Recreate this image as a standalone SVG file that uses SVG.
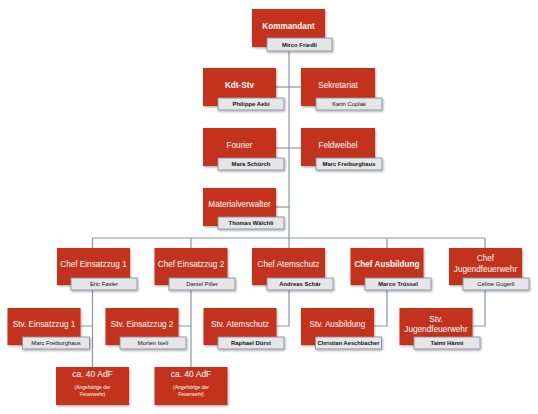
<svg xmlns="http://www.w3.org/2000/svg" width="538" height="414" viewBox="0 0 538 414">
<defs>
<filter id="sh" x="-20%" y="-20%" width="140%" height="150%">
<feDropShadow dx="0.8" dy="1.2" stdDeviation="0.9" flood-color="#000" flood-opacity="0.35"/>
</filter>
<style>
.box{fill:#C3321F;filter:url(#sh)}
.lab{fill:#E6E6E8;stroke:#8A91A0;stroke-width:0.9;filter:url(#sh)}
.t{font-family:"Liberation Sans",Arial,sans-serif;font-size:8.2px;fill:#fff;text-anchor:middle}
.tb{font-weight:bold}
.n{font-family:"Liberation Sans",Arial,sans-serif;font-size:5.9px;fill:#111;text-anchor:middle}
.nb{font-weight:bold}
.s{font-family:"Liberation Sans",Arial,sans-serif;font-size:5px;fill:#fff;text-anchor:middle}
.big{font-size:8.5px}
.c{fill:none;stroke:#8C95A6;stroke-width:1.2}
</style>
</defs>
<rect width="538" height="414" fill="#fff"/>
<g id="connectors" class="c">
<path d="M289,47V238"/>
<path d="M276,87H301"/>
<path d="M276,148H301"/>
<path d="M276,207H289"/>
<path d="M92.5,238H485"/>
<path d="M92.5,238V248M191,238V248M289,238V248M387,238V248M485,238V248"/>
<path d="M92.5,285V367M92.5,326H80.5"/>
<path d="M191,285V367M191,326H178.5"/>
<path d="M289,285V326H276.5"/>
<path d="M387,285V326H374"/>
<path d="M485,285V326H472.5"/>
</g>
<g id="kommandant">
<rect class="box" x="252" y="9" width="73" height="38"/>
<text class="t tb" x="288.5" y="29">Kommandant</text>
<rect class="lab" x="267" y="38" width="65" height="13"/>
<text class="n nb" x="299.5" y="46.5">Mirco Friedli</text>
</g>
<g id="kdt-stv">
<rect class="box" x="203" y="68" width="73" height="38"/>
<text class="t tb" x="239.5" y="88">Kdt-Stv</text>
<rect class="lab" x="218" y="98" width="66" height="12"/>
<text class="n nb" x="251" y="106">Philippe Aebi</text>
</g>
<g id="sekretariat">
<rect class="box" x="301" y="68" width="74" height="38"/>
<text class="t" x="338" y="88">Sekretariat</text>
<rect class="lab" x="316" y="98" width="66" height="12"/>
<text class="n" x="349" y="106">Karin Coplak</text>
</g>
<g id="fourier">
<rect class="box" x="203" y="128" width="73" height="38"/>
<text class="t" x="239.5" y="147.5">Fourier</text>
<rect class="lab" x="218" y="158" width="66" height="12"/>
<text class="n nb" x="251" y="166">Mara Schürch</text>
</g>
<g id="feldweibel">
<rect class="box" x="301" y="128" width="74" height="38"/>
<text class="t" x="338" y="147.5">Feldweibel</text>
<rect class="lab" x="316" y="158" width="66" height="12"/>
<text class="n nb" x="349" y="166">Marc Freiburghaus</text>
</g>
<g id="materialverwalter">
<rect class="box" x="203" y="188" width="73" height="38"/>
<text class="t" x="239.5" y="207">Materialverwalter</text>
<rect class="lab" x="218" y="217" width="66" height="12"/>
<text class="n nb" x="251" y="225">Thomas Wälchli</text>
</g>
<g id="chef-einsatzzug-1">
<rect class="box" x="57" y="248" width="73" height="37"/>
<text class="t" x="93.5" y="267">Chef Einsatzzug 1</text>
<rect class="lab" x="71" y="278" width="66" height="12"/>
<text class="n" x="104" y="286">Eric Fasler</text>
</g>
<g id="chef-einsatzzug-2">
<rect class="box" x="154.5" y="248" width="73" height="37"/>
<text class="t" x="191" y="267">Chef Einsatzzug 2</text>
<rect class="lab" x="169" y="278" width="66" height="12"/>
<text class="n" x="202" y="286">Daniel Piller</text>
</g>
<g id="chef-atemschutz">
<rect class="box" x="252" y="248" width="73" height="37"/>
<text class="t" x="288.5" y="267">Chef Atemschutz</text>
<rect class="lab" x="267" y="278" width="66" height="12"/>
<text class="n nb" x="300" y="286">Andreas Schär</text>
</g>
<g id="chef-ausbildung">
<rect class="box" x="350.5" y="248" width="73" height="37"/>
<text class="t tb" x="387" y="267">Chef Ausbildung</text>
<rect class="lab" x="365" y="278" width="66" height="12"/>
<text class="n nb" x="398" y="286">Marco Trüssel</text>
</g>
<g id="chef-jugendfeuerwehr">
<rect class="box" x="449" y="248" width="73" height="37"/>
<text class="t" x="485.5" y="261">Chef</text>
<text class="t" x="485.5" y="272">Jugendfeuerwehr</text>
<rect class="lab" x="463" y="278" width="66" height="12"/>
<text class="n" x="496" y="286">Céline Gugerli</text>
</g>
<g id="stv-einsatzzug-1">
<rect class="box" x="7.5" y="308" width="73" height="37"/>
<text class="t" x="44" y="327">Stv. Einsatzzug 1</text>
<rect class="lab" x="22.5" y="337" width="67" height="12"/>
<text class="n" x="56" y="345">Marc Freiburghaus</text>
</g>
<g id="stv-einsatzzug-2">
<rect class="box" x="105.5" y="308" width="73" height="37"/>
<text class="t" x="142" y="327">Stv. Einsatzzug 2</text>
<rect class="lab" x="120" y="337" width="66" height="12"/>
<text class="n" x="153" y="345">Morten Iseli</text>
</g>
<g id="stv-atemschutz">
<rect class="box" x="203.5" y="308" width="73" height="37"/>
<text class="t" x="240" y="327">Stv. Atemschutz</text>
<rect class="lab" x="218" y="337" width="66" height="12"/>
<text class="n nb" x="251" y="345">Raphael Dürst</text>
</g>
<g id="stv-ausbildung">
<rect class="box" x="301" y="308" width="73" height="37"/>
<text class="t" x="337.5" y="327">Stv. Ausbildung</text>
<rect class="lab" x="315.5" y="337" width="66" height="12"/>
<text class="n nb" x="348.5" y="345" textLength="62" lengthAdjust="spacingAndGlyphs">Christian Aeschbacher</text>
</g>
<g id="stv-jugendfeuerwehr">
<rect class="box" x="399.5" y="308" width="73" height="37"/>
<text class="t" x="436" y="322">Stv.</text>
<text class="t" x="436" y="332">Jugendfeuerwehr</text>
<rect class="lab" x="414" y="337" width="66" height="12"/>
<text class="n nb" x="447" y="345">Taimi Hänni</text>
</g>
<g id="adf-1">
<rect class="box" x="56" y="367" width="73" height="38"/>
<text class="t big" x="92.5" y="377">ca. 40 AdF</text>
<text class="s" x="92.5" y="388.5">(Angehörige der</text>
<text class="s" x="92.5" y="396">Feuerwehr)</text>
</g>
<g id="adf-2">
<rect class="box" x="154.5" y="367" width="73" height="38"/>
<text class="t big" x="191" y="377">ca. 40 AdF</text>
<text class="s" x="191" y="388.5">(Angehörige der</text>
<text class="s" x="191" y="396">Feuerwehr)</text>
</g>
</svg>
